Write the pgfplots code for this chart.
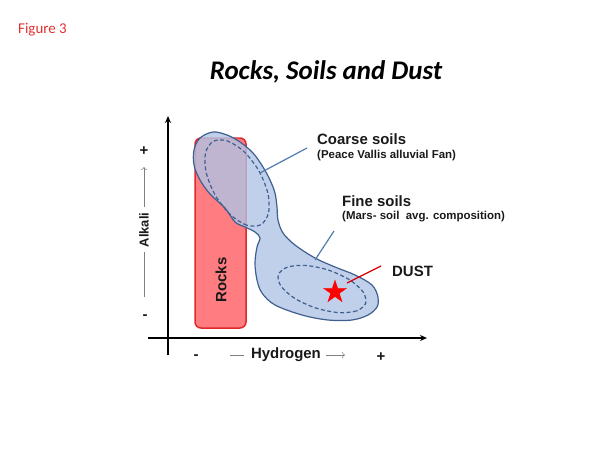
\documentclass[border=0pt]{standalone}
\usepackage{fontspec}
\setmainfont{Liberation Sans}
\newfontfamily\calibri{Carlito}
\usepackage{pgfplots}
\pgfplotsset{compat=1.18}
\usetikzlibrary{arrows.meta}

\definecolor{blobfill}{HTML}{B0C4E6}
\definecolor{blobline}{HTML}{3F5F8F}
\definecolor{leader}{HTML}{4F7BB0}
\definecolor{rockfill}{HTML}{FF7C80}
\definecolor{rockline}{HTML}{E0282A}
\definecolor{figred}{HTML}{E03030}

\tikzset{
    lab/.style={font=\fontsize{15}{18}\selectfont\bfseries, text=black!90, inner sep=0pt},
    sub/.style={font=\fontsize{11.5}{14}\selectfont\bfseries, text=black!90, inner sep=0pt},
}

\begin{document}
\begin{tikzpicture}
\begin{axis}[
    width=610bp, height=457bp,
    scale only axis,
    xmin=0, xmax=610, ymin=0, ymax=457,
    y dir=reverse,
    hide axis,
    clip=false,
]
% frame of the slide
\addplot[draw=none] coordinates {(0,0)(610,457)};

% rocks
\addplot[fill=rockfill, draw=rockline, line width=1.5pt, rounded corners=6pt]
    coordinates {(220,138)(246,138)(246,328)(195,328)(195,138)} -- cycle;

% soils envelope
\addplot[smooth cycle, tension=0.55, fill=blobfill, fill opacity=0.8,
         draw=blobline, line width=1.2pt]
    coordinates {
    (213,132)(227,135)(240,142)(253,153)(263,167)(270,180)(275,193)(277,207)
    (278,220)(283,233)(295,245)(315,258)(335,267)(355,275)(372,285)(378,297)
    (377,307)(368,315)(352,320)(328,320)(302,315)(275,305)(262,293)(257,280)
    (255,263)(257,247)(260,238)(255,232)(245,227)(235,222)(225,208)(210,194)
    (200,180)(194,165)(194,150)(200,138)};

% coarse soils
\addplot[smooth cycle, draw=blobline, line width=1.2pt, dash pattern=on 4pt off 2.5pt]
    coordinates {
    (261,224.6)(247,225.3)(230.3,214.6)(215.4,195.5)(206.3,173)(205.4,153.3)
    (213,141.4)(227,140.8)(243.8,151.4)(258.7,170.5)(267.8,193)(268.6,212.8)};

% fine soils
\addplot[smooth cycle, draw=blobline, line width=1.2pt, dash pattern=on 4pt off 2.5pt]
    coordinates {
    (365.7,303.2)(356.8,310.8)(338.6,312.6)(315.8,308)(294.8,298.4)(281,286.2)
    (278.3,274.8)(287.2,267.2)(305.4,265.4)(328.2,270)(349.2,279.6)(363,291.8)};

% dust
\addplot[fill=red, draw=red, line width=0.3pt]
    coordinates {
    (335,280)(337.7,288.3)(346.4,288.3)(339.4,293.4)(342.1,301.7)
    (335,296.6)(327.9,301.7)(330.6,293.4)(323.6,288.3)(332.3,288.3)} -- cycle;

% leaders
\addplot[leader, line width=1.2pt] coordinates {(260,173)(307,148)};
\addplot[leader, line width=1.2pt] coordinates {(315,260)(334,231)};
\addplot[red!85!black, line width=1.3pt] coordinates {(347,283)(381,266)};

% axes
\addplot[black, line width=1.8pt, -{Stealth[length=7pt, width=6pt]}]
    coordinates {(168,355)(168,116)};
\addplot[black, line width=1.8pt, -{Stealth[length=7pt, width=6pt]}]
    coordinates {(148,338)(427,338)};

% axis captions
\addplot[gray, line width=0.8pt] coordinates {(230,355)(244,355)};
\addplot[gray, line width=0.6pt, -{To[length=3pt]}] coordinates {(326,355)(345,355)};
\addplot[gray, line width=0.8pt] coordinates {(144,252)(144,297)};
\addplot[gray, line width=0.6pt, -{To[length=3pt]}] coordinates {(144,207)(144,167)};

\node[lab, anchor=center] at (axis cs:286,355) {Hydrogen};
\node[lab] at (axis cs:196,357) {-};
\node[lab] at (axis cs:381,357) {+};
\node[lab, font=\fontsize{13}{16}\selectfont\bfseries, rotate=90] at (axis cs:144,230) {Alkali};
\node[lab] at (axis cs:144,151) {+};
\node[lab] at (axis cs:145,317) {-};

\node[lab, rotate=90] at (axis cs:221,280) {Rocks};

\node[lab, anchor=west] at (axis cs:317,139) {Coarse soils};
\node[sub, anchor=west] at (axis cs:317,156) {(Peace Vallis alluvial Fan)};
\node[lab, anchor=west] at (axis cs:342,201) {Fine soils};
\node[sub, anchor=west] at (axis cs:342,217) {(Mars- soil\ \ avg. composition)};
\node[lab, anchor=west] at (axis cs:392,271) {DUST};

% titles
\node[font=\calibri\fontsize{15}{18}\selectfont, text=figred, anchor=west, inner sep=0pt] at (axis cs:18,30) {Figure 3};
\node[font=\calibri\fontsize{27}{32}\selectfont\bfseries\itshape, anchor=center, inner sep=0pt] at (axis cs:326,72) {Rocks, Soils and Dust};
\end{axis}
\end{tikzpicture}
\end{document}
